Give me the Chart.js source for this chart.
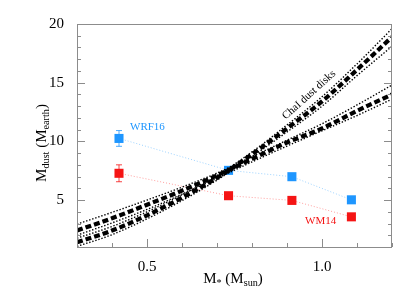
<!DOCTYPE html>
<html>
<head>
<meta charset="utf-8">
<script src="https://cdn.jsdelivr.net/npm/chart.js@4/dist/chart.umd.min.js"></script>
<style>html,body{margin:0;padding:0;background:#fff}</style>
</head>
<body>
<canvas id="grafico" width="415" height="297"></canvas>
<script>
// Massas estelares onde as curvas foram lidas
const massasCurva = [0.3, 0.4, 0.5, 0.6, 0.7, 0.8, 0.9, 1.0, 1.1, 1.2];

// Curva íngreme (Cha I dust disks) e seus limites
const ingreme = [1.4, 2.4, 3.7, 5.2, 6.9, 8.9, 11.1, 13.4, 16.1, 18.9];
const ingremeSup = [1.75, 2.75, 4.0, 5.45, 7.1, 9.1, 11.4, 13.8, 16.6, 19.6];
const ingremeInf = [1.05, 2.05, 3.4, 4.95, 6.7, 8.7, 10.8, 13.0, 15.6, 18.1];

// Curva suave e seus limites
const suave = [2.4, 3.45, 4.6, 5.8, 7.1, 8.5, 9.9, 11.1, 12.6, 14.0];
const suaveSup = [2.95, 3.95, 5.0, 6.1, 7.3, 8.7, 10.1, 11.5, 13.1, 14.8];
const suaveInf = [2.0, 3.05, 4.2, 5.5, 6.85, 8.25, 9.6, 10.9, 12.2, 13.6];

// Pontos dos modelos
const massasPontos = [0.42, 0.733, 0.914, 1.084];
const wrf16 = [10.25, 7.53, 6.99, 5.02];
const wrf16Erro = [0.67, 0, 0, 0];
const wm14 = [7.28, 5.37, 4.97, 3.57];
const wm14Erro = [0.72, 0, 0, 0];

// Ticks
const ticksX = [0.5, 1.0];
const ticksXMenores = [0.3, 0.4, 0.5, 0.6, 0.7, 0.8, 0.9, 1.0, 1.1, 1.2];
const ticksY = [5, 10, 15, 20];
const ticksYMenores = [1, 2, 3, 4, 5, 6, 7, 8, 9, 10, 11, 12, 13, 14, 15, 16, 17, 18, 19, 20];

const azul = '#1e96ff', azulClaro = '#9dd2ff';
const vermelho = '#f51414', vermelhoClaro = '#ff9e9e';
const fonte = '"Liberation Serif", "DejaVu Serif", serif';

const pares = (xs, ys) => xs.map((x, i) => ({ x, y: ys[i] }));

function curva(ys, tipo) {
  const grossa = tipo === 'centro';
  return {
    data: pares(massasCurva, ys),
    showLine: true,
    borderColor: '#000',
    borderWidth: grossa ? 4.2 : 1.4,
    borderDash: grossa ? [6, 3] : [1.4, 1.8],
    pointRadius: 0,
    cubicInterpolationMode: 'monotone',
    fill: false
  };
}

function pontos(ys, erros, cor, corLinha) {
  return {
    data: pares(massasPontos, ys),
    erros,
    showLine: true,
    borderColor: corLinha,
    borderWidth: 1,
    borderDash: [1, 2],
    pointStyle: 'rect',
    pointRadius: 6.4,
    pointBackgroundColor: cor,
    pointBorderColor: cor,
    pointBorderWidth: 0
  };
}

// Barras de erro
const barrasErro = {
  id: 'barrasErro',
  beforeDatasetsDraw(chart) {
    const { ctx, scales: { x, y } } = chart;
    chart.data.datasets.forEach(ds => {
      if (!ds.erros) return;
      ctx.save();
      ctx.strokeStyle = ds.pointBackgroundColor;
      ctx.lineWidth = 0.8;
      ds.data.forEach((p, i) => {
        const e = ds.erros[i];
        if (!e) return;
        const px = x.getPixelForValue(p.x);
        const y1 = y.getPixelForValue(p.y + e), y2 = y.getPixelForValue(p.y - e);
        ctx.beginPath();
        ctx.moveTo(px, y1); ctx.lineTo(px, y2);
        ctx.moveTo(px - 3, y1); ctx.lineTo(px + 3, y1);
        ctx.moveTo(px - 3, y2); ctx.lineTo(px + 3, y2);
        ctx.stroke();
      });
      ctx.restore();
    });
  }
};

function textoComIndice(ctx, partes, tam) {
  let w = 0;
  partes.forEach(([t, sub]) => {
    ctx.font = (sub ? tam * 0.68 : tam) + 'px ' + fonte;
    w += ctx.measureText(t).width;
  });
  let cx = -w / 2;
  partes.forEach(([t, sub]) => {
    ctx.font = (sub ? tam * 0.68 : tam) + 'px ' + fonte;
    ctx.fillText(t, cx, sub ? tam * 0.28 : 0);
    cx += ctx.measureText(t).width;
  });
}

// Moldura, ticks internos e textos
const moldura = {
  id: 'moldura',
  afterDraw(chart) {
    const { ctx, chartArea: a, scales: { x, y } } = chart;
    ctx.save();
    ctx.strokeStyle = '#8c8c8c';
    ctx.lineWidth = 1;
    ctx.strokeRect(a.left + 0.5, a.top + 0.5, a.right - a.left - 1, a.bottom - a.top);
    ctx.beginPath();
    ticksXMenores.forEach(v => {
      const px = Math.round(x.getPixelForValue(v)) + 0.5;
      const L = ticksX.includes(v) ? 8 : 4;
      ctx.moveTo(px, a.bottom); ctx.lineTo(px, a.bottom - L);
    });
    ticksYMenores.forEach(v => {
      const py = Math.round(y.getPixelForValue(v)) + 0.5;
      const L = ticksY.includes(v) ? 8 : 4;
      ctx.moveTo(a.left, py); ctx.lineTo(a.left + L, py);
      ctx.moveTo(a.right, py); ctx.lineTo(a.right - L, py);
    });
    ctx.stroke();

    ctx.fillStyle = '#000';
    ctx.textBaseline = 'middle';
    ctx.textAlign = 'left';
    ctx.save();
    ctx.translate(233, 279);
    textoComIndice(ctx, [['M', 0], ['*', 1], [' (M', 0], ['sun', 1], [')', 0]], 15);
    ctx.restore();
    ctx.save();
    ctx.translate(42, 143);
    ctx.rotate(-Math.PI / 2);
    textoComIndice(ctx, [['M', 0], ['dust', 1], [' (M', 0], ['earth', 1], [')', 0]], 15);
    ctx.restore();

    ctx.font = '11px ' + fonte;
    ctx.fillStyle = azul;
    ctx.fillText('WRF16', 130, 127);
    ctx.fillStyle = vermelho;
    ctx.fillText('WM14', 305, 221);
    ctx.fillStyle = '#000';
    ctx.save();
    ctx.translate(309, 95);
    ctx.rotate(-42 * Math.PI / 180);
    ctx.textAlign = 'center';
    ctx.fillText('ChaI dust disks', 0, 0);
    ctx.restore();
    ctx.restore();
  }
};

new Chart(document.getElementById('grafico'), {
  type: 'scatter',
  data: {
    datasets: [
      curva(ingremeSup), curva(ingremeInf), curva(suaveSup), curva(suaveInf),
      curva(ingreme, 'centro'), curva(suave, 'centro'),
      pontos(wrf16, wrf16Erro, azul, azulClaro),
      pontos(wm14, wm14Erro, vermelho, vermelhoClaro)
    ]
  },
  options: {
    responsive: false,
    animation: false,
    clip: true,
    layout: { padding: { top: 24, right: 23, bottom: 0, left: 0 } },
    plugins: { legend: { display: false }, tooltip: { enabled: false } },
    scales: {
      x: {
        type: 'linear', min: 0.3, max: 1.2,
        grid: { display: false }, border: { display: false },
        afterBuildTicks: s => { s.ticks = ticksX.map(value => ({ value })); },
        afterFit: s => { s.height = 50; },
        ticks: { color: '#000', padding: 3, font: { family: fonte, size: 15 }, callback: v => v.toFixed(1) }
      },
      y: {
        type: 'linear', min: 1, max: 20,
        grid: { display: false }, border: { display: false },
        afterBuildTicks: s => { s.ticks = ticksY.map(value => ({ value })); },
        afterFit: s => { s.width = 77; },
        ticks: { color: '#000', padding: 5, font: { family: fonte, size: 15 } }
      }
    }
  },
  plugins: [barrasErro, moldura]
});
</script>
</body>
</html>
